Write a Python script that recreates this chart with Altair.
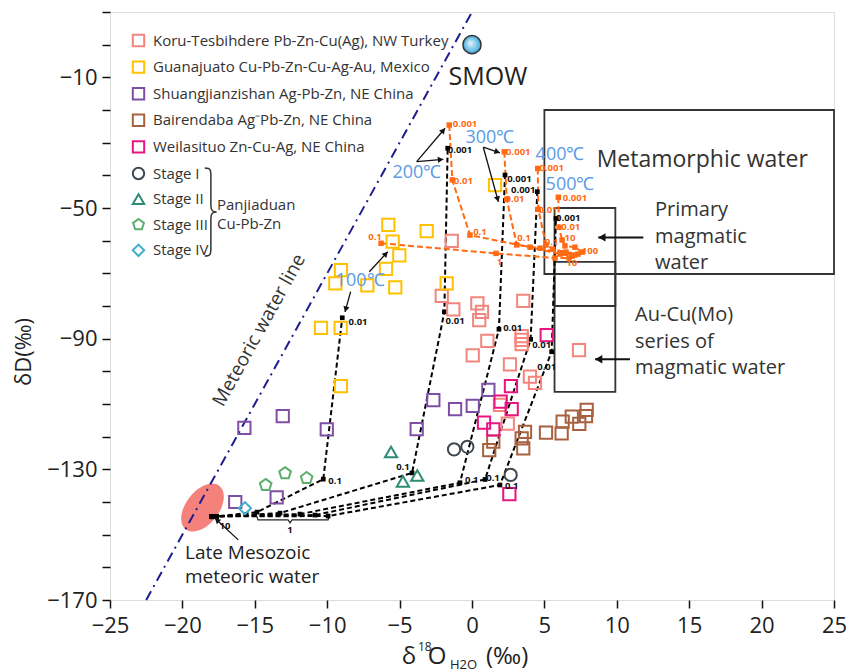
import math
import altair as alt
import pandas as pd

FONT = "Open Sans"
W, H = 724, 588
XD = [-25, 25]
YD = [-170, 10]
KX = W / (XD[1] - XD[0])
KY = H / (YD[1] - YD[0])

# ---------------- data ----------------
names = ["Koru-Tesbihdere Pb-Zn-Cu(Ag), NW Turkey",
         "Guanajuato Cu-Pb-Zn-Cu-Ag-Au, Mexico",
         "Shuangjianzishan Ag-Pb-Zn, NE China",
         "Bairendaba Ag\u207bPb-Zn, NE China",
         "Weilasituo Zn-Cu-Ag, NE China",
         "Stage I", "Stage II", "Stage III", "Stage IV"]
colors = ["#F2857D", "#FFC000", "#7F4FA6", "#A8613F", "#E8147F",
          "#3F4850", "#2E8B74", "#5BAE6B", "#3EB1C8"]
PENTAGON = "M0,-1 L0.951,-0.309 L0.588,0.809 L-0.588,0.809 L-0.951,-0.309 Z"
shapes = ["square"] * 5 + ["circle", "triangle-up", PENTAGON, "diamond"]

koru_x = [-1.40, -2.09, -1.29, 0.37, 0.69, 0.50, 3.54, 1.06, 0.05, 3.43, 3.43, 3.43,
          2.62, 4.00, 4.35, 1.93, 2.47, 7.39]
koru_y = [-60.1, -76.9, -81.0, -79.2, -81.8, -84.3, -78.4, -90.7, -95.1, -89.2, -90.4, -91.7,
          -97.9, -101.6, -103.5, -110.3, -116.0, -93.5]
guan_x = [-5.78, -5.48, -3.13, -5.02, -5.94, -9.05, -9.44, -7.23, -5.30, -1.75, -10.43, -9.07,
          -9.05, 1.59]
guan_y = [-55.2, -60.3, -57.1, -64.5, -68.6, -69.0, -73.1, -73.7, -74.3, -73.1, -86.7, -86.7,
          -104.5, -43.0]
shua_x = [-2.67, -1.17, 0.05, 1.13, -3.82, -16.35, -13.49, -15.72, -13.07, -10.03]
shua_y = [-108.8, -111.6, -110.6, -105.7, -117.7, -140.0, -138.6, -117.3, -113.7, -117.8]
bair_x = [1.47, 1.19, 3.66, 3.43, 3.54, 5.11, 6.19, 6.26, 6.89, 7.41, 7.87, 7.92]
bair_y = [-121.5, -124.1, -118.5, -120.5, -123.6, -118.8, -119.0, -115.4, -113.9, -116.1,
          -113.7, -111.8]
weil_x = [5.16, 2.69, 1.98, 2.74, 0.83, 1.47, 2.58]
weil_y = [-88.9, -104.5, -109.3, -111.6, -115.7, -117.8, -137.6]
st1_x = [-1.24, -0.32, 2.67]
st1_y = [-123.9, -123.1, -131.7]
st2_x = [-5.59, -4.77, -3.78]
st2_y = [-124.7, -133.7, -131.9]
st3_x = [-14.25, -12.91, -11.42]
st3_y = [-134.8, -131.2, -132.7]
st4_x = [-15.68]
st4_y = [-141.9]

# water/rock curves (black: rock, orange: fluid), per temperature
temps = ["100", "200", "300", "400", "500"]
blk_x = {"100": [-17.98, -17.64, -14.85, -10.27, -8.96],
         "200": [-17.98, -17.64, -13.26, -4.14, -1.91, -1.68],
         "300": [-17.98, -17.64, -11.88, -0.83, 1.86, 2.28],
         "400": [-17.98, -17.64, -10.84, 0.90, 4.05, 4.51],
         "500": [-17.98, -17.64, -9.94, 1.93, 5.50, 5.80]}
blk_y = {"100": [-144.5, -144.4, -143.1, -133.0, -83.6],
         "200": [-144.5, -144.4, -143.4, -131.1, -81.8, -31.7],
         "300": [-144.5, -144.4, -143.7, -134.1, -87.1, -39.9],
         "400": [-144.5, -144.4, -144.0, -133.1, -90.2, -45.0],
         "500": [-144.5, -144.4, -144.3, -134.8, -94.0, -53.2]}
org_x = {"100": [-6.28, 1.66, 5.73, 6.70],
         "200": [-1.57, -1.36, -0.14, 4.01, 6.08, 6.91],
         "300": [2.23, 2.40, 3.09, 4.70, 6.28, 7.11],
         "400": [4.54, 4.58, 5.11, 5.59, 6.49, 7.32],
         "500": [5.96, 6.01, 6.22, 6.42, 7.11, 7.60]}
org_y = {"100": [-60.8, -63.9, -65.3, -65.3],
         "200": [-24.6, -41.4, -58.3, -62.0, -64.1, -64.7],
         "300": [-32.8, -47.3, -61.3, -62.3, -63.8, -64.4],
         "400": [-37.9, -50.4, -61.3, -62.6, -63.5, -64.1],
         "500": [-46.7, -55.9, -59.8, -61.6, -62.0, -63.5]}

blk_lab_text = ["0.1", "0.01", "0.1", "0.01", "0.001", "0.1", "0.01", "0.001", "0.1", "0.01",
                "0.001", "0.1", "0.01", "0.001", "10", "1"]
blk_lab_x = [-9.46, -7.87, -4.77, -1.17, -0.83, -0.02, 2.81, 3.27, 1.45, 4.81, 3.54, 2.74, 5.16,
             6.65, -17.06, -12.57]
blk_lab_y = [-133.6, -84.9, -129.3, -84.5, -32.3, -133.3, -86.8, -41.1, -132.7, -91.9, -44.5,
             -135.1, -98.6, -53.2, -147.3, -148.6]
org_lab_text = ["0.1", "0.001", "0.01", "0.1", "0.001", "0.01", "0.1", "0.001", "0.01", "0.1",
                "0.001", "0.01", "10", "100", "10", "1"]
org_lab_x = [-6.70, -0.48, -0.60, 0.55, 3.20, 2.97, 3.59, 5.50, 5.25, 5.50, 7.11, 6.82, 6.77,
             8.15, 6.89, 1.89]
org_lab_y = [-59.0, -24.3, -41.7, -57.3, -32.8, -47.3, -59.3, -37.9, -50.6, -60.3, -47.0, -55.9,
             -59.3, -63.2, -66.9, -66.5]

temp_text = ["100\u2103", "200\u2103", "300\u2103", "400\u2103", "500\u2103"]
temp_x = [-7.73, -3.80, 1.24, 6.08, 6.77]
temp_y = [-72.3, -39.3, -28.7, -33.8, -43.0]

bracket_x = [-14.87, -14.78, -12.70, -12.57, -12.43, -9.94, -9.85]
bracket_y = [-144.3, -145.5, -145.5, -146.4, -145.5, -145.5, -144.3]

mwl_x = [-22.5, 0.0]          # meteoric water line dD = 8 d18O + 10
mwl_y = [8 * v + 10 for v in mwl_x]

boxes = {"name": ["Metamorphic", "Primary", "AuCu"],
         "x": [5.0, 5.7, 5.7], "x2": [25.0, 9.9, 9.9],
         "y": [-20.0, -50.0, -66.5], "y2": [-70.2, -80.0, -106.3]}

arr_x1 = [-3.82, -3.82, 0.78, 0.78, -7.09, -8.38, -16.14, 11.83, 10.91]
arr_y1 = [-35.8, -35.8, -31.4, -31.4, -69.5, -75.6, -151.6, -59.0, -96.3]
arr_x2 = [-1.86, -1.98, 1.93, 1.82, -5.82, -8.77, -17.75, 8.72, 8.50]
arr_y2 = [-25.6, -35.1, -33.1, -48.1, -63.4, -81.8, -145.0, -59.0, -96.3]
arr_w = [1.3, 1.3, 1.3, 1.3, 1.3, 1.3, 1.3, 2.0, 2.0]
arr_head = [40, 40, 40, 40, 40, 40, 40, 70, 70]

smow_x, smow_y = [0.0], [0.0]
ell_x, ell_y = [-18.61], [-141.7]

# ---------------- build tables ----------------
series_xy = [(koru_x, koru_y), (guan_x, guan_y), (shua_x, shua_y), (bair_x, bair_y),
             (weil_x, weil_y), (st1_x, st1_y), (st2_x, st2_y), (st3_x, st3_y), (st4_x, st4_y)]
rows = []
for nm, (sx, sy) in zip(names, series_xy):
    for a, b in zip(sx, sy):
        rows.append({"series": nm, "x": a, "y": b})
df_pts = pd.DataFrame(rows)


def curve_df(dx, dy):
    r = []
    for t in temps:
        for i, (a, b) in enumerate(zip(dx[t], dy[t])):
            r.append({"t": t, "i": i, "x": a, "y": b})
    return pd.DataFrame(r)


df_blk = curve_df(blk_x, blk_y)
df_org = curve_df(org_x, org_y)

ar = []
for x1, y1, x2, y2, w, hs in zip(arr_x1, arr_y1, arr_x2, arr_y2, arr_w, arr_head):
    ux, uy = (x2 - x1) * KX, -(y2 - y1) * KY
    L = math.hypot(ux, uy)
    ux, uy = ux / L, uy / L
    ang = math.degrees(math.atan2(ux, -uy)) % 360
    h = math.sqrt(3) / 2 * math.sqrt(hs) / 2
    hx = x2 - ux * h / KX
    hy = y2 + uy * h / KY
    ar.append({"x": x1, "y": y1, "x2": x2, "y2": y2, "hx": hx, "hy": hy, "ang": ang,
               "w": w, "hs": hs})
df_arr = pd.DataFrame(ar)

# ---------------- encodings ----------------
xs = alt.Scale(domain=XD, nice=False, zero=False)
ys = alt.Scale(domain=YD, nice=False, zero=False)
XAX = alt.Axis(values=list(range(-25, 26, 5)), title=None, grid=False, domain=False,
               tickSize=8, tickWidth=1.5, tickColor="#111", labelFontSize=22,
               labelFont=FONT, labelColor="#222", labelPadding=7, labelFlush=False,
               labelOverlap=False)
YAX = alt.Axis(values=list(range(-170, 11, 10)), title=None, grid=False, domain=False,
               tickSize=8, tickWidth=1.5, tickColor="#111", labelFontSize=22,
               labelFont=FONT, labelColor="#222", labelPadding=5, labelFlush=False,
               labelOverlap=False,
               labelExpr="(datum.value + 170) % 40 == 0 ? datum.label : ''")


def X(f="x"):
    return alt.X(f"{f}:Q", scale=xs, axis=XAX)


def Y(f="y"):
    return alt.Y(f"{f}:Q", scale=ys, axis=YAX)


def text_layer(texts, tx, ty, size, color="#222", weight="normal", align="center",
               angle=0):
    d = pd.DataFrame({"x": tx, "y": ty, "label": texts})
    return alt.Chart(d).mark_text(fontSize=size, font=FONT, color=color, fontWeight=weight,
                                  align=align, baseline="middle", angle=angle).encode(
        x=X(), y=Y(), text="label:N")


def px_text(txt, px, py, size, align="left", angle=0, color="#222"):
    return alt.Chart(pd.DataFrame({"label": [txt]})).mark_text(
        fontSize=size, font=FONT, color=color, align=align, baseline="middle",
        angle=angle).encode(x=alt.value(px), y=alt.value(py), text="label:N")


# ---------------- layers ----------------
ELLIPSE = "M -1 0 A 1 0.6 0 1 0 1 0 A 1 0.6 0 1 0 -1 0 Z"
ellipse = alt.Chart(pd.DataFrame({"x": ell_x, "y": ell_y})).mark_point(
    shape=ELLIPSE, filled=True, size=55 * 55, angle=308, color="#F4817B", opacity=1,
    strokeWidth=0).encode(x=X(), y=Y())

mwl = alt.Chart(pd.DataFrame({"x": mwl_x, "y": mwl_y})).mark_line(
    color="#1E1E8C", strokeWidth=2, strokeDash=[10, 5, 2, 5]).encode(x=X(), y=Y())

box_layer = alt.Chart(pd.DataFrame(boxes)).mark_rect(
    fillOpacity=0, stroke="#333333", strokeWidth=1.8).encode(
    x=X(), x2="x2:Q", y=Y(), y2="y2:Q")

blk_lines = alt.Chart(df_blk).mark_line(color="black", strokeWidth=2, strokeDash=[5, 3]).encode(
    x=X(), y=Y(), detail="t:N", order="i:Q")
blk_pts = alt.Chart(df_blk).mark_point(shape="square", filled=True, size=22, color="black",
                                       opacity=1).encode(x=X(), y=Y())
org_lines = alt.Chart(df_org).mark_line(color="#FF6A13", strokeWidth=2,
                                        strokeDash=[6, 3]).encode(
    x=X(), y=Y(), detail="t:N", order="i:Q")
org_pts = alt.Chart(df_org).mark_point(shape="square", filled=True, size=30, color="#FF6A13",
                                       opacity=1).encode(x=X(), y=Y())

bracket = alt.Chart(pd.DataFrame({"x": bracket_x, "y": bracket_y,
                                  "i": list(range(len(bracket_x)))})).mark_line(
    color="#222", strokeWidth=1.2).encode(x=X(), y=Y(), order="i:Q")

LEG = alt.Legend(orient="none", legendX=21, legendY=21, title=None, padding=0,
                 symbolSize=130, symbolStrokeWidth=2, labelFontSize=15, labelFont=FONT,
                 labelColor="#333", rowPadding=5.6, labelOffset=7, labelLimit=500,
                 direction="vertical")
points = alt.Chart(df_pts).mark_point(filled=False, size=150, strokeWidth=2, opacity=1).encode(
    x=X(), y=Y(),
    color=alt.Color("series:N", scale=alt.Scale(domain=names, range=colors), legend=LEG),
    shape=alt.Shape("series:N", scale=alt.Scale(domain=names, range=shapes), legend=LEG),
)

smow = alt.Chart(pd.DataFrame({"x": smow_x, "y": smow_y})).mark_point(
    filled=True, size=330, opacity=1, stroke="#333", strokeWidth=1.5,
    fill=alt.RadialGradient(gradient="radial",
                            stops=[alt.GradientStop(offset=0, color="#E6F7FF"),
                                   alt.GradientStop(offset=1, color="#3FA9DC")],
                            x1=0.4, y1=0.4, r1=0, x2=0.5, y2=0.5, r2=0.5)).encode(
    x=X(), y=Y())

arr_lines = alt.Chart(df_arr).mark_rule(color="#111").encode(
    x=X(), y=Y(), x2="x2:Q", y2="y2:Q",
    strokeWidth=alt.StrokeWidth("w:Q", scale=None, legend=None))
arr_heads = alt.Chart(df_arr).mark_point(shape="triangle-up", filled=True, color="#111",
                                         opacity=1).encode(
    x=X("hx"), y=Y("hy"), angle=alt.Angle("ang:Q", scale=None),
    size=alt.Size("hs:Q", scale=None, legend=None))

BRACE = ("M -0.12 -1 C 0.02 -1 0.02 -0.95 0.02 -0.8 L 0.02 -0.15 C 0.02 -0.03 0.06 0 0.15 0 "
         "C 0.06 0 0.02 0.03 0.02 0.15 L 0.02 0.8 C 0.02 0.95 0.02 1 -0.12 1")
brace = alt.Chart(pd.DataFrame({"k": [0]})).mark_point(
    shape=BRACE, filled=False, size=88 * 88, strokeWidth=1.5, color="#333", opacity=1).encode(
    x=alt.value(100), y=alt.value(200))

texts = [
    text_layer(blk_lab_text, blk_lab_x, blk_lab_y, 9.5, color="#111", weight="bold"),
    text_layer(org_lab_text, org_lab_x, org_lab_y, 9.5, color="#FF6A13", weight="bold"),
    text_layer(temp_text, temp_x, temp_y, 18, color="#5C9AE6"),
    text_layer(["SMOW"], [1.10], [-9.9], 25, color="#222"),
    text_layer(["Metamorphic water"], [15.9], [-35.3], 23, color="#333"),
    text_layer(["Primary", "magmatic", "water"], [12.64] * 3, [-50.6, -58.8, -66.9], 20,
               color="#333", align="left"),
    text_layer(["Au-Cu(Mo)", "series of", "magmatic water"], [11.26] * 3,
               [-82.8, -90.9, -99.1], 20, color="#333", align="left"),
    text_layer(["Late Mesozoic", "meteoric water"], [-19.82] * 2, [-155.6, -163.0], 19,
               color="#222", align="left"),
    text_layer(["Meteoric water line"], [-14.7], [-87.4], 19, color="#333", angle=299),
    px_text("Panjiaduan", 107, 193, 15, color="#333"),
    px_text("Cu-Pb-Zn", 107, 212, 15, color="#333"),
    # axis titles
    px_text("\u03b4D(\u2030)", -86, 340, 22, align="center", angle=270),
    px_text("\u03b4", 299, 645, 24, align="center"),
    px_text("18", 308, 635, 12),
    px_text("O", 327, 645, 24, align="center"),
    px_text("H2O", 340, 653, 13),
    px_text("(\u2030)", 376, 645, 24),
]

chart = alt.layer(
    ellipse, mwl, box_layer, blk_lines, org_lines, bracket, blk_pts, org_pts, points, smow,
    arr_lines, arr_heads, brace, *texts
).properties(
    width=W, height=H,
    padding={"left": 102, "top": 4, "right": 20, "bottom": 72},
    autosize=alt.AutoSizeParams(type="none"),
).configure_view(stroke="black", strokeWidth=2).configure(background="white")

chart.save("out.html", embed_options={"renderer": "svg", "actions": False})
